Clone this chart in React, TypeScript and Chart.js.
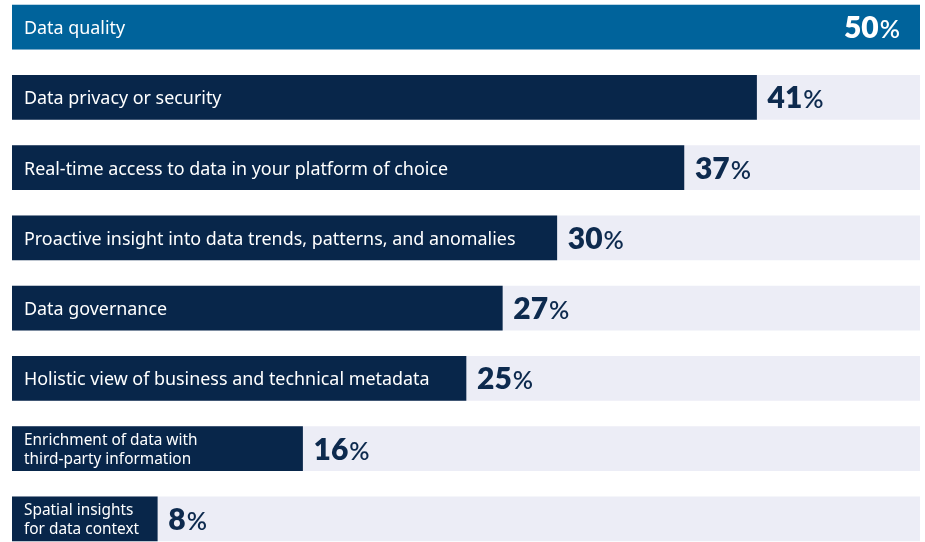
import React, { useEffect, useRef } from "react";
import { Chart, registerables } from "chart.js";

Chart.register(...registerables);

const categories: string[][] = [
  ["Data quality"],
  ["Data privacy or security"],
  ["Real-time access to data in your platform of choice"],
  ["Proactive insight into data trends, patterns, and anomalies"],
  ["Data governance"],
  ["Holistic view of business and technical metadata"],
  ["Enrichment of data with", "third-party information"],
  ["Spatial insights", "for data context"],
];
const values = [50, 41, 37, 30, 27, 25, 16, 8];
const trackValues = [50, 50, 50, 50, 50, 50, 50, 50];
const axisMax = 50;

const TOP_COLOR = "#00639b";
const BAR_COLOR = "#08264a";
const TRACK_COLOR = "#ecedf6";
const VALUE_COLOR = "#0d2a4e";
const FONT = "'Noto Sans', Lato, sans-serif";
const VFONT = "Lato, 'Noto Sans', sans-serif";

const labelPlugin = {
  id: "barLabels",
  afterDatasetsDraw(chart: any) {
    const ctx = chart.ctx;
    const meta = chart.getDatasetMeta(0);
    const maxVal = Math.max(...values);
    ctx.save();
    meta.data.forEach((el: any, i: number) => {
      const lines = categories[i];
      const left = Math.min(el.base, el.x);
      const right = Math.max(el.base, el.x);
      ctx.fillStyle = "#ffffff";
      ctx.textAlign = "left";
      ctx.textBaseline = "middle";
      if (lines.length === 1) {
        ctx.font = `400 17.9px ${FONT}`;
        ctx.fillText(lines[0], left + 12, el.y + 2);
      } else {
        ctx.font = `400 15.4px ${FONT}`;
        const lh = 19;
        lines.forEach((ln, k) => {
          ctx.fillText(ln, left + 12, el.y + (k - (lines.length - 1) / 2) * lh + 1.5);
        });
      }
      const num = String(values[i]);
      ctx.font = `800 30px ${VFONT}`;
      const nw = ctx.measureText(num).width;
      ctx.font = `600 25px ${VFONT}`;
      const pw = ctx.measureText("%").width;
      let x0: number;
      if (values[i] === maxVal) {
        ctx.fillStyle = "#ffffff";
        x0 = right - 20 - nw - 1 - pw;
      } else {
        ctx.fillStyle = VALUE_COLOR;
        x0 = right + 11;
      }
      ctx.textBaseline = "alphabetic";
      ctx.font = `800 30px ${VFONT}`;
      ctx.fillText(num, x0, el.y + 11);
      ctx.font = `600 25px ${VFONT}`;
      ctx.fillText("%", x0 + nw + 1, el.y + 11);
    });
    ctx.restore();
  },
};

export default function App() {
  const ref = useRef<HTMLCanvasElement>(null);
  useEffect(() => {
    if (!ref.current) return;
    const chart = new Chart(ref.current, {
      type: "bar",
      data: {
        labels: categories.map((c) => c.join(" ")),
        datasets: [
          {
            data: values,
            backgroundColor: values.map((v, i) => (i === 0 ? TOP_COLOR : BAR_COLOR)),
            barThickness: 44,
            grouped: false,
            borderWidth: 0,
          },
          {
            data: trackValues,
            backgroundColor: TRACK_COLOR,
            barThickness: 44,
            grouped: false,
            borderWidth: 0,
          },
        ],
      },
      options: {
        indexAxis: "y",
        animation: false,
        responsive: false,
        maintainAspectRatio: false,
        layout: { padding: { left: 12, right: 5, top: 12, bottom: 26 } },
        plugins: {
          legend: { display: false },
          tooltip: { enabled: false },
        },
        scales: {
          x: { display: false, min: 0, max: axisMax },
          y: { display: false },
        },
      },
      plugins: [labelPlugin],
    });
    return () => chart.destroy();
  }, []);
  return (
    <div style={{ position: "absolute", left: 0, top: -20, width: 925, height: 600 }}>
      <canvas ref={ref} width={925} height={600} style={{ width: 925, height: 600 }} />
    </div>
  );
}
